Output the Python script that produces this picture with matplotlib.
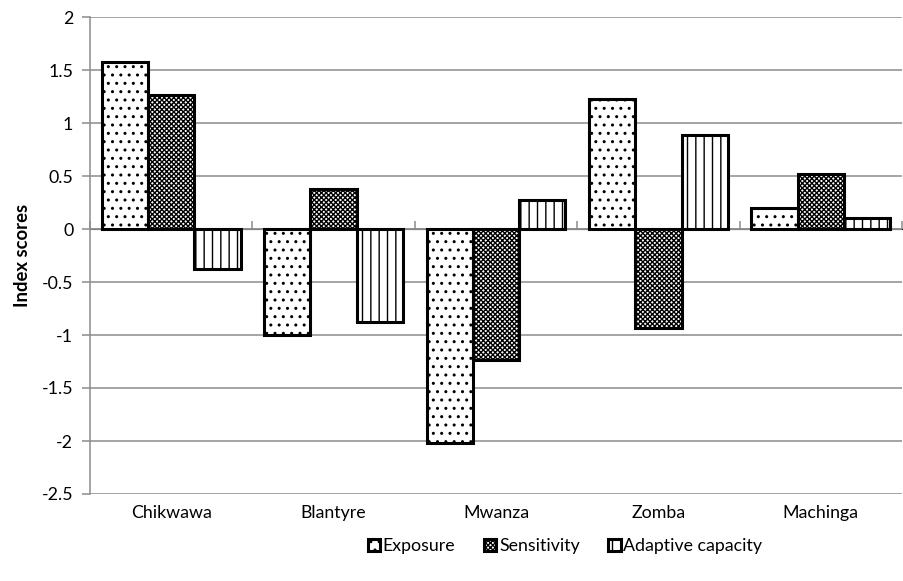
import matplotlib
matplotlib.use("Agg")
import matplotlib.pyplot as plt
import numpy as np

# ── data ───────────────────────────────────────────────────────────────────
districts = ["Chikwawa", "Blantyre", "Mwanza", "Zomba", "Machinga"]
exposure = [1.58, -1.00, -2.02, 1.23, 0.20]
sensitivity = [1.26, 0.38, -1.24, -0.93, 0.52]
adaptive = [-0.38, -0.88, 0.27, 0.89, 0.10]
series_names = ["Exposure", "Sensitivity", "Adaptive capacity"]
y_ticks = [2, 1.5, 1, 0.5, 0, -0.5, -1, -1.5, -2, -2.5]

plt.rcParams["font.family"] = ["Lato", "DejaVu Sans"]
plt.rcParams["hatch.linewidth"] = 1.0

GRID = "#8c8c8c"
FS = 12.8

fig = plt.figure(figsize=(9.04, 5.81), dpi=100)
ax = fig.add_axes([90 / 904, (581 - 494) / 581, 812 / 904, (494 - 17) / 581])

x = np.arange(len(districts))
w = 0.285
styles = [
    dict(hatch="..", facecolor="white"),
    dict(hatch="xxxxxxx", facecolor="white"),
    dict(hatch="||", facecolor="white"),
]
handles = []
for i, (vals, st) in enumerate(zip([exposure, sensitivity, adaptive], styles)):
    bars = ax.bar(x + (i - 1) * w, vals, width=w, edgecolor="black",
                  linewidth=2.2, zorder=3, label=series_names[i], **st)
    handles.append(bars)

ax.set_xlim(-0.5, len(districts) - 0.5)
ax.set_ylim(-2.5, 2)
ax.set_yticks(y_ticks)
ax.set_yticklabels([f"{t:g}" for t in y_ticks])
ax.yaxis.grid(True, color=GRID, linewidth=1.1, zorder=0)
ax.set_axisbelow(True)

for side in ["top", "right", "bottom"]:
    ax.spines[side].set_visible(False)
ax.spines["left"].set_color(GRID)
ax.spines["left"].set_linewidth(1.1)
ax.tick_params(axis="y", direction="out", length=6, color=GRID, width=1.1,
               labelsize=FS, pad=6)

ax.set_xticks(x)
ax.set_xticklabels(districts)
ax.tick_params(axis="x", length=0, labelsize=FS, pad=8)

# category axis line at zero, with tick marks between categories
ax.axhline(0, color=GRID, linewidth=1.1, zorder=2)
sec = ax.secondary_xaxis(2.5 / 4.5)
sec.set_xticks(np.arange(len(districts) + 1) - 0.5)
sec.set_xticklabels([])
sec.spines["bottom"].set_visible(False)
sec.tick_params(direction="out", length=6, color=GRID, width=1.1)

ax.set_ylabel("Index scores", fontsize=FS + 0.5, fontweight="bold", labelpad=8)

leg = ax.legend(handles=handles, labels=series_names, loc="upper center",
                bbox_to_anchor=(0.585, -0.07), ncol=3, frameon=False,
                fontsize=FS, handlelength=0.7, handleheight=0.7,
                handletextpad=0.15, columnspacing=1.6, borderpad=0.1)

fig.savefig("out.png", dpi=100)
